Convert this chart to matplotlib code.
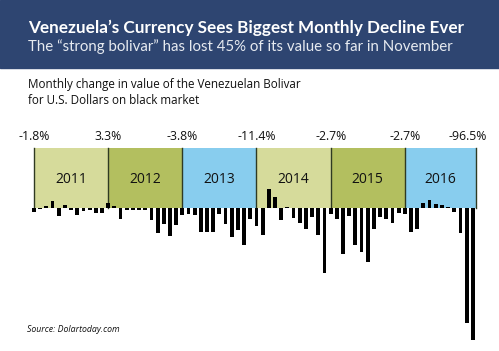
import matplotlib
matplotlib.use("Agg")
import matplotlib.pyplot as plt
from matplotlib.patches import Rectangle

# data: monthly change (%) of the bolivar vs USD, Jan 2011 .. 2016
years = ["2011", "2012", "2013", "2014", "2015", "2016"]
change_2011 = [-1.4, -0.3, 0.7, 2.4, -2.7, 1.0, -0.7, -2.4, -1.0, -0.7, -1.7, -1.7]
change_2012 = [1.7, 0.7, -3.8, -0.7, -0.7, -0.5, -0.5, -4.1, -8.5, -5.5, -9.5, -5.8]
change_2013 = [-2.4, -2.0, -2.4, -8.2, -8.2, -8.2, -2.0, -5.5, -9.9, -7.5, -12.6, -3.8]
change_2014 = [-6.1, -9.2, 6.5, 3.8, -4.1, 0.3, -3.4, -5.1, -7.2, -3.1, -9.2, -22.2]
change_2015 = [-2.0, -3.8, -15.7, -2.7, -12.6, -15.0, -18.4, -7.2, -3.1, -3.8, -5.1, -1.7]
change_2016 = [-2.0, -8.2, -7.2, 1.7, 2.7, 1.4, 1.0, 0.3, -1.4, -8.5, -39.2, -45.0]
top_labels = ["-1.8%", "3.3%", "-3.8%", "-11.4%", "-2.7%", "-2.7%", "-96.5%"]

values = change_2011 + change_2012 + change_2013 + change_2014 + change_2015 + change_2016
months = list(range(len(values)))

box_colors = ["#d6db9b", "#b3bf5f", "#88cdee"] * 2
edges = [0, 12, 24, 36, 48, 60, 71.5]

fig = plt.figure(figsize=(4.99, 3.51), dpi=100)

# header band
fig.patches.append(Rectangle((0, 0.805), 1, 0.195, transform=fig.transFigure,
                             color="#2e4571", zorder=0))
fig.text(0.056, 0.922, "Venezuela\u2019s Currency Sees Biggest Monthly Decline Ever",
         family="Lato", weight="bold", size=12.3, color="white", va="center")
fig.text(0.057, 0.866, "The \u201cstrong bolivar\u201d has lost 45% of its value so far in November",
         family="Lato", size=10.8, color="#e6eaf0", va="center")

fig.text(0.056, 0.737, "Monthly change in value of the Venezuelan Bolivar\nfor U.S. Dollars on black market",
         family="Open Sans", size=8.4, color="#111111", va="center", linespacing=1.3)
fig.text(0.054, 0.062, "Source: Dolartoday.com", family="Open Sans", style="italic",
         size=6.3, color="#111111", va="center")

ax = fig.add_axes([0, 0, 1, 1])
ax.set_xlim(-5.5, 75.24)
ax.set_ylim(-48.65, 71.0)
ax.axis("off")
ax.patch.set_alpha(0)

box_top = 20.66
for i, yr in enumerate(years):
    x0, x1 = edges[i], edges[i + 1]
    ax.add_patch(Rectangle((x0, 0), x1 - x0, box_top, facecolor=box_colors[i],
                           edgecolor="none", zorder=1))
    ax.text((x0 + x1) / 2, 9.65, yr, ha="center", va="center",
            family="Open Sans", size=10, color="#111111", zorder=3)
for e in edges:
    ax.plot([e, e], [0, box_top], color="#2f3a22", lw=1.0, zorder=2)

for i, lab in enumerate(top_labels):
    x = edges[i] if i < len(top_labels) - 1 else 70.2
    ax.text(x, 24.6, lab, ha="center", va="center", family="Open Sans",
            size=8.8, color="#111111")

ax.bar(months, values, width=0.62, color="black", zorder=4)

fig.savefig("out.png", dpi=100)
